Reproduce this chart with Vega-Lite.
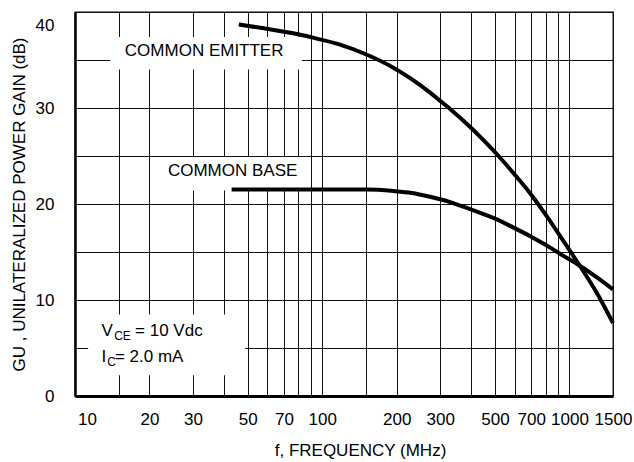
{
  "$schema": "https://vega.github.io/schema/vega-lite/v6.json",
  "width": 538,
  "height": 384,
  "autosize": {"type": "none"},
  "padding": {"left": 75, "top": 12, "right": 21, "bottom": 66},
  "background": "white",
  "config": {
    "font": "Liberation Sans",
    "view": {"stroke": "black", "strokeWidth": 1.3}
  },
  "datasets": {
    "curves": [
      {"series": "CE", "f": 46, "g": 38.7},
      {"series": "CE", "f": 58, "g": 38.3},
      {"series": "CE", "f": 79, "g": 37.7},
      {"series": "CE", "f": 96, "g": 37.2},
      {"series": "CE", "f": 118, "g": 36.6},
      {"series": "CE", "f": 150, "g": 35.6},
      {"series": "CE", "f": 194, "g": 34.2},
      {"series": "CE", "f": 230, "g": 33.0},
      {"series": "CE", "f": 273, "g": 31.6},
      {"series": "CE", "f": 295, "g": 30.9},
      {"series": "CE", "f": 329, "g": 29.9},
      {"series": "CE", "f": 384, "g": 28.36},
      {"series": "CE", "f": 449, "g": 26.66},
      {"series": "CE", "f": 508, "g": 25.21},
      {"series": "CE", "f": 593, "g": 23.23},
      {"series": "CE", "f": 682, "g": 21.35},
      {"series": "CE", "f": 784, "g": 19.23},
      {"series": "CE", "f": 889, "g": 17.18},
      {"series": "CE", "f": 960, "g": 15.89},
      {"series": "CE", "f": 1087, "g": 13.78},
      {"series": "CE", "f": 1289, "g": 10.75},
      {"series": "CE", "f": 1500, "g": 7.6},
      {"series": "CB", "f": 43, "g": 21.5},
      {"series": "CB", "f": 100, "g": 21.5},
      {"series": "CB", "f": 150, "g": 21.5},
      {"series": "CB", "f": 194, "g": 21.35},
      {"series": "CB", "f": 230, "g": 21.15},
      {"series": "CB", "f": 273, "g": 20.75},
      {"series": "CB", "f": 329, "g": 20.2},
      {"series": "CB", "f": 384, "g": 19.6},
      {"series": "CB", "f": 449, "g": 18.95},
      {"series": "CB", "f": 492, "g": 18.55},
      {"series": "CB", "f": 593, "g": 17.55},
      {"series": "CB", "f": 700, "g": 16.6},
      {"series": "CB", "f": 800, "g": 15.75},
      {"series": "CB", "f": 945, "g": 14.6},
      {"series": "CB", "f": 1097, "g": 13.6},
      {"series": "CB", "f": 1300, "g": 12.3},
      {"series": "CB", "f": 1500, "g": 11.1}
    ],
    "boxes": [
      {"f": 13.9, "f2": 82.8, "g": 34.0, "g2": 37.4},
      {"f": 22.1, "f2": 83.6, "g": 21.4, "g2": 24.9},
      {"f": 11.3, "f2": 48.7, "g": 2.15, "g2": 8.5}
    ],
    "labels": [
      {"t": "COMMON EMITTER", "f": 33.3, "g": 35.9},
      {"t": "COMMON BASE", "f": 43.4, "g": 23.4}
    ],
    "cond": [
      {"t": "V", "f": 12.8, "g": 6.76},
      {"t": "= 10 Vdc", "f": 17.5, "g": 6.76},
      {"t": "I", "f": 12.8, "g": 4.08},
      {"t": "= 2.0 mA", "f": 14.5, "g": 4.08}
    ],
    "subs": [
      {"t": "CE", "f": 14.4, "g": 6.2},
      {"t": "C", "f": 13.5, "g": 3.5}
    ]
  },
  "encoding": {
    "x": {
      "field": "f",
      "type": "quantitative",
      "scale": {"type": "log", "domain": [10, 1500], "nice": false},
      "axis": {
        "title": "f, FREQUENCY (MHz)",
        "values": [10, 15, 20, 30, 40, 50, 60, 70, 80, 90, 100, 150, 200, 300, 400, 500, 600, 700, 800, 900, 1000, 1500],
        "labelExpr": "indexof([10,20,30,50,70,100,200,300,500,700,1000,1500], datum.value) >= 0 ? '' + datum.value : ''",
        "grid": true,
        "gridColor": "#111",
        "gridWidth": 1,
        "gridOpacity": 1,
        "ticks": false,
        "domainColor": "black",
        "domainWidth": 3,
        "labelFontSize": 17,
        "labelColor": "black",
        "labelPadding": 15,
        "labelOverlap": false,
        "labelFlush": false,
        "labelBound": false,
        "labelOffset": {"condition": {"test": "datum.value == 10", "value": 12}, "value": 0},
        "titleFontSize": 17,
        "titleFontWeight": "normal",
        "titleColor": "black",
        "titlePadding": 15,
        "titleX": 285
      }
    },
    "y": {
      "field": "g",
      "type": "quantitative",
      "scale": {"domain": [0, 40], "nice": false, "zero": false},
      "axis": {
        "title": "GU , UNILATERALIZED POWER GAIN (dB)",
        "values": [0, 5, 10, 15, 20, 25, 30, 35, 40],
        "labelExpr": "datum.value % 10 == 0 ? '' + datum.value : ''",
        "grid": true,
        "gridColor": "#111",
        "gridWidth": 1,
        "gridOpacity": 1,
        "ticks": false,
        "domainColor": "black",
        "domainWidth": 2.5,
        "labelFontSize": 17,
        "labelColor": "black",
        "labelPadding": 21,
        "labelOverlap": false,
        "labelFlush": false,
        "labelBound": false,
        "labelOffset": {"condition": {"test": "datum.value == 40", "value": 13}, "value": 0},
        "titleFontSize": 17,
        "titleFontWeight": "normal",
        "titleColor": "black",
        "titlePadding": 7
      }
    }
  },
  "layer": [
    {
      "data": {"name": "boxes"},
      "mark": {"type": "rect", "fill": "white", "stroke": null},
      "encoding": {"x2": {"field": "f2"}, "y2": {"field": "g2"}}
    },
    {
      "data": {"name": "curves"},
      "mark": {"type": "line", "color": "black", "strokeWidth": 4, "interpolate": "monotone"},
      "encoding": {"detail": {"field": "series", "type": "nominal"}}
    },
    {
      "data": {"name": "labels"},
      "mark": {"type": "text", "fontSize": 17, "align": "center", "baseline": "middle", "color": "black"},
      "encoding": {"text": {"field": "t"}}
    },
    {
      "data": {"name": "cond"},
      "mark": {"type": "text", "fontSize": 17, "align": "left", "baseline": "middle", "color": "black"},
      "encoding": {"text": {"field": "t"}}
    },
    {
      "data": {"name": "subs"},
      "mark": {"type": "text", "fontSize": 12, "align": "left", "baseline": "middle", "color": "black"},
      "encoding": {"text": {"field": "t"}}
    }
  ]
}
